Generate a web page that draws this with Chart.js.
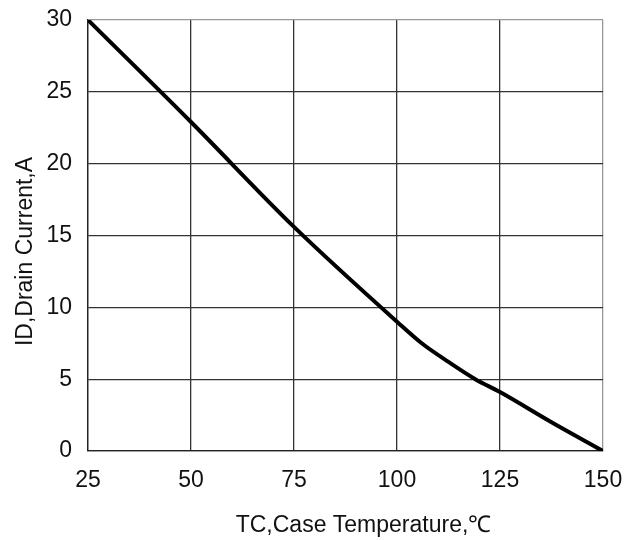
<!DOCTYPE html>
<html>
<head>
<meta charset="utf-8">
<script src="https://cdn.jsdelivr.net/npm/chart.js@4/dist/chart.umd.min.js"></script>
<style>
  html, body { margin: 0; padding: 0; background: #ffffff; }
  #wrap { width: 636px; height: 540px; }
</style>
</head>
<body>
<div id="wrap"><canvas id="c" width="636" height="540"></canvas></div>
<script>
// Case temperature (°C)
const temperature = [25, 50, 75, 100, 106, 112.5, 119, 125, 137.5, 150];
// Drain current (A)
const drainCurrent = [30, 22.9, 15.6, 9.0, 7.5, 6.2, 5.0, 4.1, 2.0, 0];
const xTicks = [25, 50, 75, 100, 125, 150];
const yTicks = [0, 5, 10, 15, 20, 25, 30];
const xTitle = 'TC,Case Temperature,\u2103';
const yTitle = 'ID,Drain Current,A';

const FONT = '"Liberation Sans", Arial, sans-serif';
const points = temperature.map((t, i) => ({ x: t, y: drainCurrent[i] }));

const titlePlugin = {
  id: 'axisTitles',
  afterDraw(chart) {
    const ctx = chart.ctx;
    const a = chart.chartArea;
    ctx.save();
    ctx.fillStyle = '#111';
    ctx.font = '23px ' + FONT;
    ctx.textAlign = 'center';
    ctx.textBaseline = 'alphabetic';
    ctx.fillText(xTitle, (a.left + a.right) / 2 + 18, a.bottom + 81);
    ctx.translate(a.left - 56, (a.top + a.bottom) / 2 + 16);
    ctx.rotate(-Math.PI / 2);
    ctx.fillText(yTitle, 0, 0);
    ctx.restore();
  }
};

new Chart(document.getElementById('c'), {
  type: 'line',
  data: {
    datasets: [{
      data: points,
      borderColor: '#000',
      borderWidth: 4,
      pointRadius: 0,
      fill: false,
      cubicInterpolationMode: 'monotone'
    }]
  },
  options: {
    responsive: false,
    animation: false,
    devicePixelRatio: 1,
    layout: { padding: { left: 0, top: 20, right: 33, bottom: 0 } },
    plugins: { legend: { display: false }, tooltip: { enabled: false } },
    scales: {
      x: {
        type: 'linear',
        min: 25, max: 150,
        afterBuildTicks(scale) { scale.ticks = xTicks.map(v => ({ value: v })); },
        afterFit(scale) { scale.height = 89; scale.paddingLeft = 0; scale.paddingRight = 0; },
        grid: {
          drawTicks: false,
          lineWidth: 1.3,
          color: ctx => (ctx.tick && ctx.tick.value === 150) ? '#999' : '#333'
        },
        border: { display: true, color: '#222', width: 1.3 },
        ticks: { padding: 16, color: '#111', font: { family: FONT, size: 23 }, maxRotation: 0 }
      },
      y: {
        type: 'linear',
        min: 0, max: 30,
        afterBuildTicks(scale) { scale.ticks = yTicks.map(v => ({ value: v })); },
        afterFit(scale) { scale.width = 88; scale.paddingTop = 0; scale.paddingBottom = 0; },
        grid: {
          drawTicks: false,
          lineWidth: 1.3,
          color: ctx => (ctx.tick && ctx.tick.value === 30) ? '#999' : '#333'
        },
        border: { display: true, color: '#222', width: 1.3 },
        ticks: { padding: 16, color: '#111', font: { family: FONT, size: 23 } }
      }
    }
  },
  plugins: [titlePlugin]
});
</script>
</body>
</html>
